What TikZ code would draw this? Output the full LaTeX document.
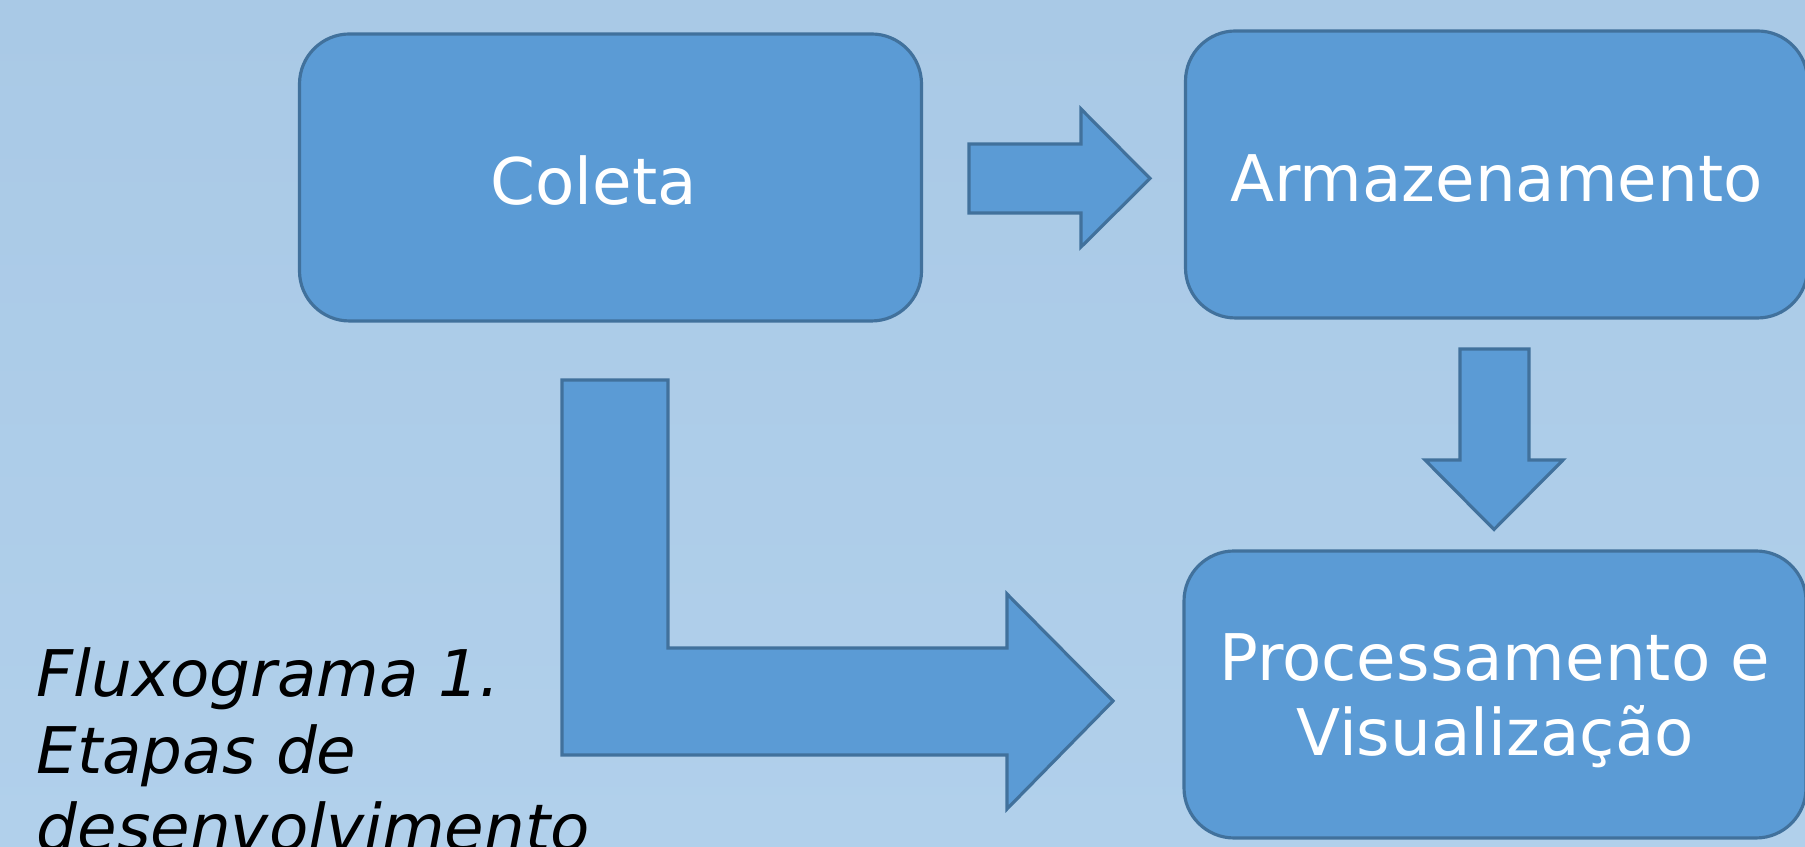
\documentclass[tikz,border=0pt]{standalone}
\usepackage{fontspec}
\setmainfont{DejaVu Sans}
\usepackage{tikz}
\definecolor{fundoA}{HTML}{A9C9E6}
\definecolor{fundoB}{HTML}{B1D0EB}
\definecolor{azul}{HTML}{5B9BD5}
\definecolor{borda}{HTML}{41719C}
\tikzset{b/.style={draw=borda,line width=0.9pt,fill=azul,rounded corners=0.5cm,minimum width=6.22cm,minimum height=2.87cm,inner sep=0pt,text=white,align=center,font=\fontsize{18.3}{21.3}\selectfont}}
\tikzset{s/.style={draw=borda,line width=0.9pt,fill=azul}}
\tikzset{t/.style={font=\fontsize{18.3}{21.9}\selectfont\itshape,align=left,inner sep=0pt}}

\begin{document}
\begin{tikzpicture}
            \shade[top color=fundoA,bottom color=fundoB](0,0) rectangle (18.05,8.47);
            \path[use as bounding box,clip](0,0) rectangle (18.05,8.47);
            \node[b,text height=0.55cm,text depth=0pt] (C) at (6.105,6.695) {Coleta\hspace*{0.34cm}};
            \node[b,text height=0.55cm,text depth=0pt] (A) at (14.965,6.725) {Armazenamento};
            \node[b,text depth=0pt] (P) at (14.95,1.525) {Processamento e\\Visualização};
            \filldraw[s](9.69,7.03)--(10.81,7.03)--(10.81,7.38)--(11.50,6.685)--(10.81,6.00)--(10.81,6.34)--(9.69,6.34)--cycle;
            \filldraw[s](14.60,4.98)--(15.29,4.98)--(15.29,3.87)--(15.63,3.87)--(14.94,3.175)--(14.25,3.87)--(14.60,3.87)--cycle;
            \filldraw[s](5.62,4.67)--(6.68,4.67)--(6.68,1.99)--(10.07,1.99)--(10.07,2.53)--(11.13,1.46)--(10.07,0.38)--(10.07,0.92)--(5.62,0.92)--cycle;
            \node[t,anchor=north west] (L) at (0.36,2.00) {Fluxograma 1.\\Etapas de\\desenvolvimento};
          \end{tikzpicture}
\end{document}
